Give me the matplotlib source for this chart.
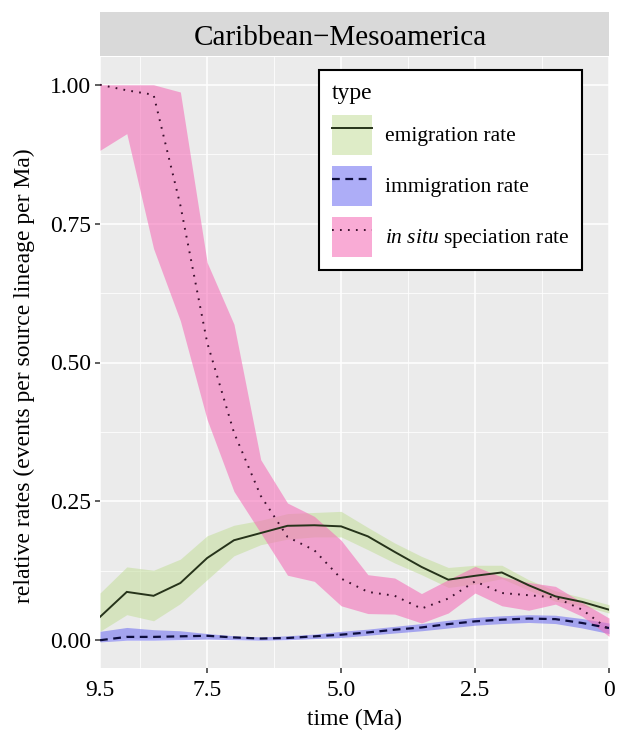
import matplotlib
matplotlib.use("Agg")
import matplotlib.pyplot as plt
from matplotlib.patches import Patch
from matplotlib.lines import Line2D

plt.rcParams['font.family'] = ['Liberation Serif', 'DejaVu Serif']
plt.rcParams['mathtext.fontset'] = 'custom'
plt.rcParams['mathtext.it'] = 'Liberation Serif:italic'
plt.rcParams['mathtext.rm'] = 'Liberation Serif'

# time bins (Ma), 0.5 Ma steps from 9.5 to 0
time = [9.5, 9.0, 8.5, 8.0, 7.5, 7.0, 6.5, 6.0, 5.5, 5.0,
        4.5, 4.0, 3.5, 3.0, 2.5, 2.0, 1.5, 1.0, 0.5, 0.0]

emig = [0.042, 0.087, 0.080, 0.103, 0.148, 0.180, 0.193, 0.206, 0.207, 0.205,
        0.187, 0.159, 0.132, 0.109, 0.116, 0.122, 0.099, 0.079, 0.069, 0.055]
emig_lo = [0.016, 0.046, 0.035, 0.066, 0.109, 0.152, 0.172, 0.182, 0.186, 0.186,
           0.163, 0.139, 0.118, 0.095, 0.101, 0.111, 0.090, 0.070, 0.062, 0.049]
emig_hi = [0.085, 0.132, 0.126, 0.146, 0.188, 0.207, 0.216, 0.228, 0.230, 0.232,
           0.203, 0.175, 0.151, 0.131, 0.135, 0.135, 0.109, 0.089, 0.077, 0.064]

immig = [0.000, 0.006, 0.006, 0.007, 0.008, 0.005, 0.003, 0.004, 0.007, 0.010,
         0.014, 0.019, 0.023, 0.029, 0.034, 0.037, 0.039, 0.038, 0.031, 0.022]
immig_lo = [-0.003, 0.000, 0.000, 0.001, 0.002, 0.001, 0.000, 0.001, 0.003, 0.005,
            0.009, 0.013, 0.017, 0.022, 0.027, 0.030, 0.032, 0.030, 0.022, 0.012]
immig_hi = [0.016, 0.023, 0.019, 0.017, 0.012, 0.008, 0.006, 0.008, 0.011, 0.016,
            0.020, 0.025, 0.030, 0.036, 0.041, 0.044, 0.046, 0.045, 0.039, 0.031]

insitu = [1.000, 0.990, 0.982, 0.783, 0.536, 0.374, 0.260, 0.186, 0.162, 0.111,
          0.087, 0.080, 0.057, 0.075, 0.106, 0.085, 0.081, 0.077, 0.055, 0.019]
insitu_lo = [0.882, 0.912, 0.705, 0.575, 0.397, 0.268, 0.193, 0.117, 0.106, 0.062,
             0.048, 0.047, 0.031, 0.049, 0.085, 0.062, 0.054, 0.065, 0.043, 0.007]
insitu_hi = [1.000, 1.000, 1.000, 0.987, 0.680, 0.569, 0.325, 0.247, 0.223, 0.180,
             0.118, 0.112, 0.084, 0.109, 0.133, 0.114, 0.104, 0.097, 0.068, 0.040]

W, H = 617, 733
fig = plt.figure(figsize=(W / 100, H / 100), dpi=100)
px = lambda x0, y0, x1, y1: [x0 / W, 1 - y1 / H, (x1 - x0) / W, (y1 - y0) / H]

ax = fig.add_axes(px(100, 57, 609, 668))
ax.set_facecolor('#ebebeb')
for s in ax.spines.values():
    s.set_visible(False)

# ribbons
ax.fill_between(time, emig_lo, emig_hi, color='#c3de9a', alpha=0.55, lw=0)
ax.fill_between(time, immig_lo, immig_hi, color='#6a6af2', alpha=0.55, lw=0)
ax.fill_between(time, insitu_lo, insitu_hi, color='#f56eb8', alpha=0.58, lw=0)

# rate lines
ax.plot(time, emig, color='#26331a', lw=1.4, solid_joinstyle='miter')
ax.plot(time, immig, color='#0d0d3d', lw=1.6, dashes=(3.5, 2.5))
ax.plot(time, insitu, color='#3a0f2c', lw=1.4, dashes=(0.9, 3.2))

ax.set_xlim(9.5, 0)
ax.set_ylim(-0.05, 1.05)
ax.set_xticks([9.5, 7.5, 5.0, 2.5, 0.0])
ax.set_xticklabels(['9.5', '7.5', '5.0', '2.5', '0'])
ax.set_xticks([8.75, 6.25, 3.75, 1.25], minor=True)
ax.set_yticks([0, 0.25, 0.5, 0.75, 1.0])
ax.set_yticklabels(['0.00', '0.25', '0.50', '0.75', '1.00'])
ax.set_yticks([0.125, 0.375, 0.625, 0.875], minor=True)
ax.grid(which='major', color='white', lw=1.1)
ax.grid(which='minor', color='white', lw=0.55)
ax.set_axisbelow(True)
ax.tick_params(which='major', length=3.5, width=1.1, color='#333333',
               labelsize=17, labelcolor='black', pad=3)
ax.tick_params(axis='x', which='major', pad=5.5)
ax.tick_params(which='minor', length=0)
ax.xaxis.get_major_ticks()[0].tick1line.set_visible(False)
ax.set_xlabel('time (Ma)', fontsize=17, labelpad=5)
ax.set_ylabel('relative rates (events per source lineage per Ma)', fontsize=17,
              labelpad=11, y=0.478)

# legend
handles = [
    (Patch(facecolor='#c3de9a', alpha=0.55, edgecolor='none'), Line2D([], [], color='#26331a', lw=1.4)),
    (Patch(facecolor='#6a6af2', alpha=0.55, edgecolor='none'), Line2D([], [], color='#0d0d3d', lw=1.6, dashes=(3.5, 2.5))),
    (Patch(facecolor='#f56eb8', alpha=0.58, edgecolor='none'), Line2D([], [], color='#3a0f2c', lw=1.4, dashes=(0.9, 3.2))),
]
labels = ['emigration rate', 'immigration rate', r'$\it{in\ situ}$ speciation rate']
leg = ax.legend(handles, labels, title='type', loc='upper left',
                bbox_to_anchor=(219 / 509, 1 - 13 / 611),
                fontsize=15.5, title_fontsize=17, frameon=True, fancybox=False,
                framealpha=1, edgecolor='black', handlelength=1.85, handleheight=2.5,
                handletextpad=0.6, labelspacing=0.5, borderpad=0.6, borderaxespad=0,
                alignment='left')
leg.get_frame().set_linewidth(1.5)

# facet strip
strip = fig.add_axes(px(100, 12, 609, 56))
strip.set_facecolor('#d9d9d9')
strip.set_xticks([])
strip.set_yticks([])
for s in strip.spines.values():
    s.set_visible(False)
strip.text(0.4715, 0.42, 'Caribbean\u2212Mesoamerica', ha='center', va='center',
           fontsize=21, transform=strip.transAxes)

fig.savefig('out.png', dpi=100)
